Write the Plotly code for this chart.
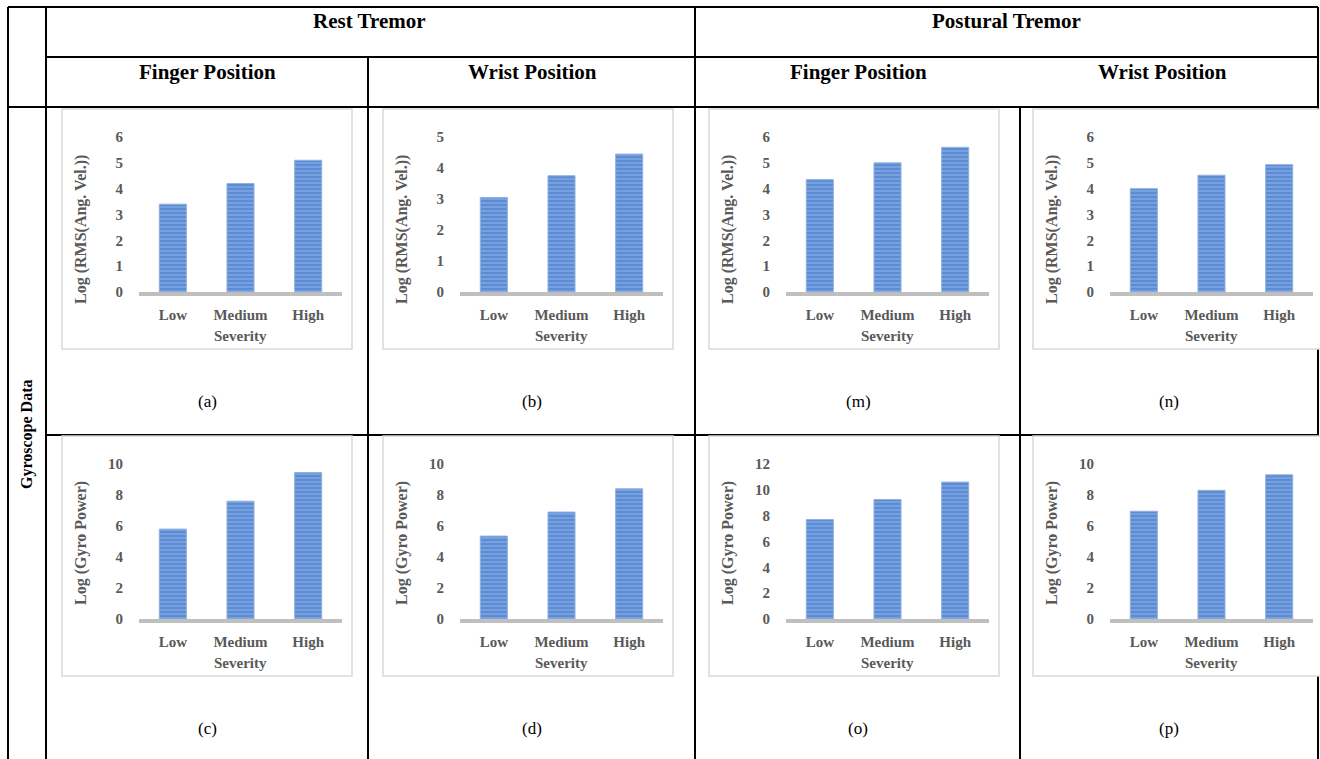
import plotly.graph_objects as go

W, H = 1320, 759

# ---------------- data ----------------
categories = ["Low", "Medium", "High"]

rest_finger_rms = [3.4, 4.2, 5.1]
rest_wrist_rms = [3.05, 3.75, 4.45]
post_finger_rms = [4.35, 5.0, 5.6]
post_wrist_rms = [4.0, 4.52, 4.93]

rest_finger_power = [5.8, 7.6, 9.45]
rest_wrist_power = [5.35, 6.9, 8.4]
post_finger_power = [7.7, 9.25, 10.6]
post_wrist_power = [6.95, 8.3, 9.3]

rms_title = "Log (RMS(Ang. Vel.))"
power_title = "Log (Gyro Power)"
x_title = "Severity"

group_headers = ["Rest Tremor", "Postural Tremor"]
position_headers = ["Finger Position", "Wrist Position", "Finger Position", "Wrist Position"]
row_header = "Gyroscope Data"

# label, values, y title, y max, y tick step, column, row
panels = [
    ("(a)", rest_finger_rms, rms_title, 6, 1, 0, 0),
    ("(b)", rest_wrist_rms, rms_title, 5, 1, 1, 0),
    ("(m)", post_finger_rms, rms_title, 6, 1, 2, 0),
    ("(n)", post_wrist_rms, rms_title, 6, 1, 3, 0),
    ("(c)", rest_finger_power, power_title, 10, 2, 0, 1),
    ("(d)", rest_wrist_power, power_title, 10, 2, 1, 1),
    ("(o)", post_finger_power, power_title, 12, 2, 2, 1),
    ("(p)", post_wrist_power, power_title, 10, 2, 3, 1),
]

# ---------------- layout geometry (pixels) ----------------
box_lefts = [62, 383, 709, 1033]
box_tops = [109, 436]
box_w, box_h = 290, 240
col_centers = [207, 532, 858, 1169]
label_y = [401, 728]

SERIF = "Liberation Serif, Times New Roman, serif"
GRAY = "#595959"


def px(x):
    return x / W


def py(y):
    return 1 - y / H


fig = go.Figure()
layout = {}
shapes = []
annotations = []

# table lines
BL = dict(color="black", width=2)
hlines = [(7, 8, 1318), (57, 46, 1318), (107, 8, 1318), (435, 46, 1318)]
vlines = [(8, 7, 770), (46, 7, 770), (368, 57, 770), (695, 7, 770), (1020, 107, 770), (1318, 7, 770)]
for y, x0, x1 in hlines:
    shapes.append(dict(type="line", xref="paper", yref="paper", layer="below",
                       x0=px(x0), x1=px(x1), y0=py(y), y1=py(y), line=BL))
for x, y0, y1 in vlines:
    shapes.append(dict(type="line", xref="paper", yref="paper", layer="below",
                       x0=px(x), x1=px(x), y0=py(y0), y1=py(y1), line=BL))

# headers
hdr_font = dict(family=SERIF, size=21, color="black", weight="bold")
for txt, cx in zip(group_headers, [370, 1006]):
    annotations.append(dict(text=txt, x=px(cx), y=py(21), xref="paper", yref="paper",
                            showarrow=False, xanchor="center", yanchor="middle", font=hdr_font))
for txt, cx in zip(position_headers, [207, 532, 858, 1162]):
    annotations.append(dict(text=txt, x=px(cx), y=py(72), xref="paper", yref="paper",
                            showarrow=False, xanchor="center", yanchor="middle", font=hdr_font))
annotations.append(dict(text=row_header, x=px(27), y=py(435), xref="paper", yref="paper",
                        showarrow=False, xanchor="center", yanchor="middle", textangle=-90,
                        font=dict(family=SERIF, size=16, color="black", weight="bold")))

chart_font = dict(family=SERIF, size=15, color=GRAY, weight="bold")
ytitle_font = dict(family=SERIF, size=16, color=GRAY, weight="bold")

for i, (lab, vals, ytitle, ymax, dt, c, r) in enumerate(panels, start=1):
    L, T = box_lefts[c], box_tops[r]
    # chart box
    shapes.append(dict(type="rect", xref="paper", yref="paper", layer="below",
                       x0=px(L), x1=px(L + box_w), y0=py(T), y1=py(T + box_h),
                       fillcolor="white", line=dict(color="#d9d9d9", width=1.5)))
    xa = "x" if i == 1 else f"x{i}"
    ya = "y" if i == 1 else f"y{i}"
    fig.add_trace(go.Bar(
        x=categories, y=vals, xaxis=xa, yaxis=ya, width=0.4, showlegend=False,
        marker=dict(color="#5b8cd5", line=dict(color="#8fb0e0", width=1),
                    pattern=dict(shape="-", fgcolor="#b9cff0", bgcolor="#5b8cd5",
                                 size=4, solidity=0.3)),
    ))
    layout["xaxis" if i == 1 else f"xaxis{i}"] = dict(
        domain=[px(L + 77), px(L + 280)], anchor=ya, type="category",
        range=[-0.5, 2.5], showgrid=False, zeroline=False, showline=True,
        linecolor="#bfbfbf", linewidth=3.5, ticks="", tickfont=chart_font,
        ticklabelstandoff=6, fixedrange=True, automargin=False)
    layout["yaxis" if i == 1 else f"yaxis{i}"] = dict(
        domain=[py(T + 183), py(T + 28)], anchor=xa, range=[0, ymax], dtick=dt, tick0=0,
        showgrid=False, zeroline=False, showline=False, ticks="", tickfont=chart_font,
        ticklabelstandoff=15, fixedrange=True, automargin=False)
    annotations.append(dict(text=x_title, x=px(L + 178), y=py(T + 227), xref="paper", yref="paper",
                            showarrow=False, xanchor="center", yanchor="middle", font=chart_font))
    ty = T + (121 if ytitle == rms_title else 107)
    annotations.append(dict(text=ytitle, x=px(L + 19), y=py(ty), xref="paper", yref="paper",
                            showarrow=False, xanchor="center", yanchor="middle", textangle=-90,
                            font=ytitle_font))
    annotations.append(dict(text=lab, x=px(col_centers[c]), y=py(label_y[r]), xref="paper", yref="paper",
                            showarrow=False, xanchor="center", yanchor="middle",
                            font=dict(family=SERIF, size=17, color="black")))

fig.update_layout(
    width=W, height=H, margin=dict(l=0, r=0, t=0, b=0, autoexpand=False),
    paper_bgcolor="white", plot_bgcolor="rgba(0,0,0,0)",
    bargap=0.6, shapes=shapes, annotations=annotations, **layout,
)

fig.write_html("out.html", config={"displayModeBar": False})
